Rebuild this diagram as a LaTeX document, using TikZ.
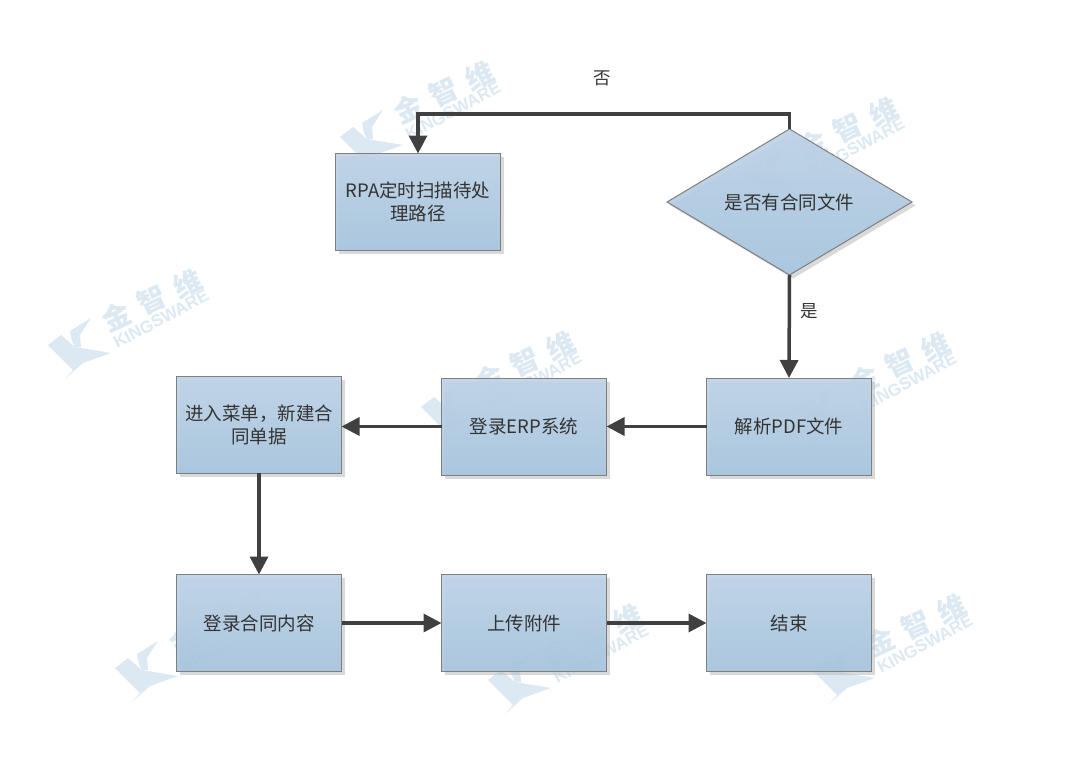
\documentclass[tikz,border=0pt]{standalone}
\usepackage{fontspec}
\setmainfont{Noto Sans CJK SC}
\newfontfamily\wmlatin{Liberation Sans}
\newfontfamily\wmcjk[LetterSpace=40]{Noto Sans CJK SC}
\usepackage{xcolor}
\usetikzlibrary{arrows.meta,positioning,shapes.geometric,shadows}
\definecolor{boxtop}{HTML}{BFD3E7}
\definecolor{boxbot}{HTML}{A6C5DF}
\definecolor{boxline}{HTML}{7F7F7F}
\definecolor{connline}{HTML}{404040}
\definecolor{wmblue}{HTML}{DCE9F3}
\newcommand{\wmark}[3]{%
  \begin{scope}[shift={(#2,#3)}]
    \fill[wmblue] (0,0)--(13,-10)--(27,2)--(63,8)--(35,18)--(17,34)--(25,25)--cycle;
    \fill[wmblue] (22,-14)--(43,-27)--(32,-10)--(33,2)--(27,2)--(24,-4)--cycle;
    \node[wmtext,rotate=25,font=\wmcjk\bfseries\fontsize{28}{28}\selectfont] (#1a) at (104,-45){金智维};
    \node[wmtext,rotate=28,font=\wmlatin\bfseries\fontsize{17}{17}\selectfont] (#1b) at (113,-26){KINGSWARE};
  \end{scope}}

\begin{document}
\begin{tikzpicture}[x=1pt,y=-1pt,node distance=100pt,
  box/.style={draw=boxline,line width=1pt,minimum width=165pt,minimum height=97pt,inner sep=0pt,
    outer sep=0pt,align=center,text=black!80,font=\fontsize{18.5}{23}\selectfont,
    top color=boxtop,bottom color=boxbot,fill opacity=.92,text opacity=1,
    drop shadow={shadow xshift=3.5pt,shadow yshift=-3.5pt,fill=black!25,opacity=.6}},
  decide/.style={box,diamond,aspect=1.68,minimum width=245pt,minimum height=146pt},
  lab/.style={font=\fontsize{17.5}{20}\selectfont,text=black!80},
  wmtext/.style={text=wmblue,inner sep=0pt},
  conn/.style={draw=connline,line width=3.5pt,-{Triangle[length=18pt,width=18pt]}}]
  \path[use as bounding box](0,0)rectangle(1080,768);
  % watermarks
  \wmark{wa}{340}{137}
  \wmark{wb}{744}{173}
  \wmark{wc}{48}{345}
  \wmark{wd}{421}{407}
  \wmark{we}{796}{408}
  \wmark{wf}{812}{670}
  \wmark{wg}{488}{680}
  \wmark{wh}{115}{668}
  \node[box](scan)at(418,202){RPA定时扫描待处\\理路径};
  \node[decide](has)at(789.5,202){是否有合同文件};
  \node[box](pdf)at(789,426.5){解析PDF文件};
  \node[box,left=of pdf](erp){登录ERP系统};
  \node[box,left=of erp,yshift=2pt](menu){进入菜单，新建合\\同单据};
  \node[box](entry)at(259,623){登录合同内容};
  \node[box,right=of entry](upload){上传附件};
  \node[box,right=of upload](done){结束};
  \coordinate(top)at(600,114);
  \node[lab](no)at(602,78){否};
  \node[lab](yes)at(809,311){是};
  \draw[conn](has.north)--(has.north|-top)-|(scan.north);
  \draw[conn](has.south)--(pdf.north);
  \draw[conn](pdf)--(erp);
  \draw[conn](erp)--(erp-|menu.east);
  \draw[conn](menu)--(entry);
  \draw[conn](entry)--(upload);
  \draw[conn](upload)--(done);
\end{tikzpicture}
\end{document}
